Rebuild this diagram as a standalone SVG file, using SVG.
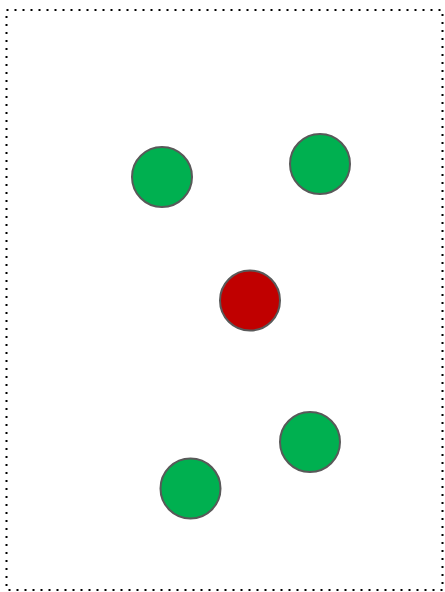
<svg xmlns="http://www.w3.org/2000/svg" width="445" height="592" viewBox="0 0 445 592">
<style>
.n{stroke:#595959;stroke-width:2}
.g{fill:#00B050}
.r{fill:#C00000}
</style>
<rect x="6.5" y="10" width="436" height="580" fill="none" stroke="#000" stroke-width="2" stroke-dasharray="2 6"/>
<g id="connectors"/>
<g id="n1"><circle class="n g" cx="162" cy="177" r="30"/></g>
<g id="n2"><circle class="n g" cx="320" cy="164" r="30"/></g>
<g id="n3"><circle class="n r" cx="250" cy="300.5" r="30"/></g>
<g id="n4"><circle class="n g" cx="310" cy="442" r="30"/></g>
<g id="n5"><circle class="n g" cx="190.5" cy="488.5" r="30"/></g>
</svg>
